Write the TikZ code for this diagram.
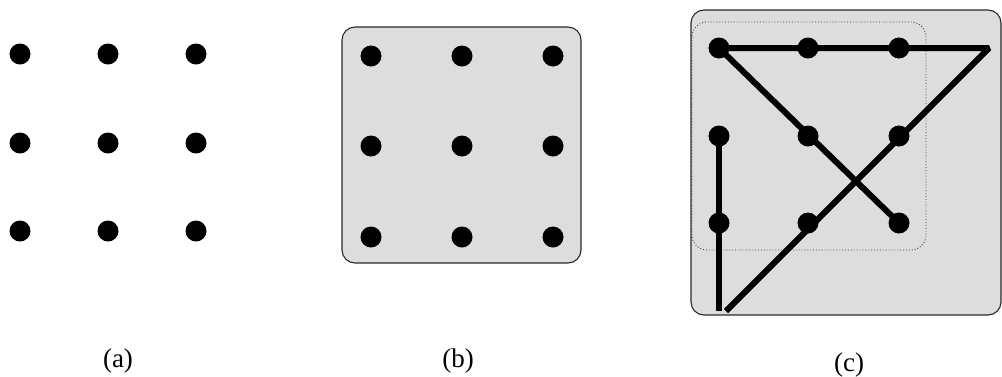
\documentclass[tikz,border=0pt]{standalone}
\usepackage{fontspec}
\setmainfont{Liberation Serif}
\definecolor{panelGray}{HTML}{DDDDDD}
\definecolor{edgeGray}{HTML}{2A2A2A}
\usetikzlibrary{positioning}

\begin{document}
\begin{tikzpicture}[x=1pt,y=-1pt,
  dot/.style={circle,fill=black,inner sep=0pt,minimum size=21pt},
  panel/.style={draw=edgeGray,fill=panelGray,line width=1.1pt,rounded corners=13pt},
  frame/.style={draw=black!75,dotted,line width=0.9pt,rounded corners=15pt},
  stroke/.style={line width=6pt,line cap=butt,line join=bevel},
  caption/.style={font=\fontsize{27}{30}\selectfont,anchor=base}
]
  \useasboundingbox (0,0) rectangle (1002,376);

  % (a) bare grid
  \foreach \i/\x in {1/20,2/108,3/196}
    \foreach \j/\y in {1/54,2/143,3/231}
      \node[dot] (a\j\i) at (\x,\y) {};
  \node[caption] (capa) at (118,367) {(a)};

  % (b) grid on a panel
  \draw[panel] (342,27) rectangle (581,263);
  \foreach \i/\x in {1/371,2/462,3/553}
    \foreach \j/\y in {1/56,2/146,3/237}
      \node[dot] (b\j\i) at (\x,\y) {};
  \node[caption] (capb) at (458,367) {(b)};

  % (c) four strokes leaving the box
  \draw[panel] (691,10) rectangle (1001,315);
  \draw[frame] (692,22) rectangle (926,250);
  \foreach \i/\x in {1/719,2/808,3/899}
    \foreach \j/\y in {1/48,2/136,3/223}
      \node[dot] (c\j\i) at (\x,\y) {};
  \coordinate (turn) at (989,48);
  \coordinate (toe)  at (726,311);
  \coordinate (foot) at (719,311);

  \draw[stroke] (c21.center) -- (foot);
  \draw[stroke] (toe) -- (turn) -- (c11.center);
  \draw[stroke] (c11.center) -- (c33.center);
  \node[caption] (capc) at (849,371) {(c)};
\end{tikzpicture}
\end{document}
